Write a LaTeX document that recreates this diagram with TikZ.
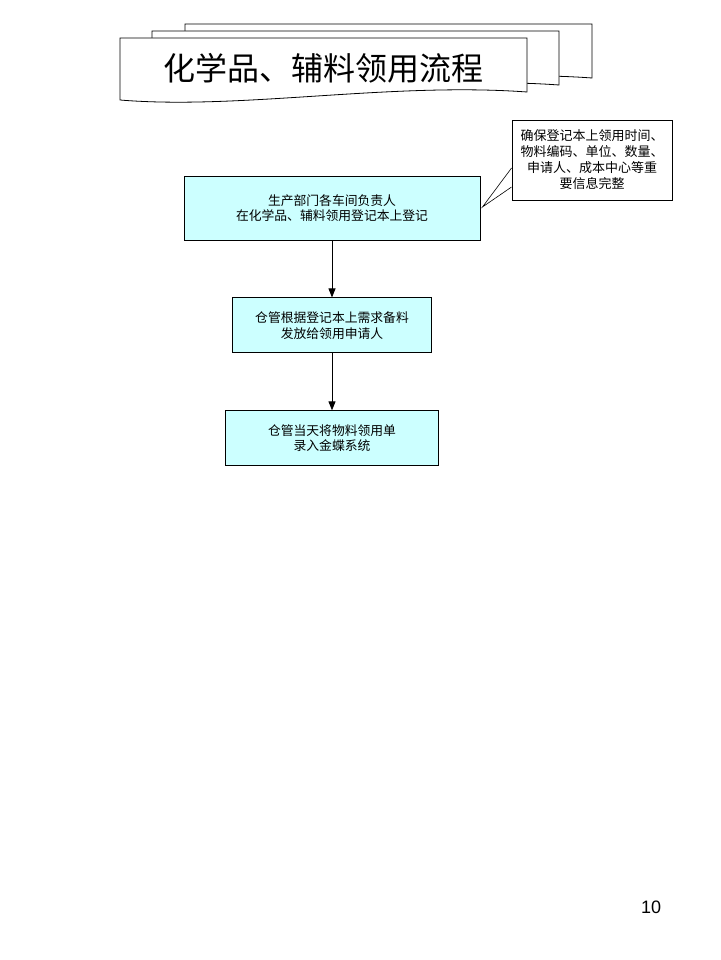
\documentclass[tikz,border=0pt]{standalone}
\usepackage{fontspec}
\setmainfont{Noto Sans CJK SC}
\newfontfamily\numfont{Liberation Sans}
\usepackage{tikz}
\usetikzlibrary{positioning,arrows.meta}
\definecolor{procfill}{HTML}{CCFFFF}

\begin{document}
\begin{tikzpicture}[
    x = 1pt, y = -1pt,
    > = {Triangle[width=7pt,length=9pt]},
    node distance = 57pt,
    line width = 0.9pt,
    procbox/.style={rectangle, draw, fill=procfill, align=center,
        font=\fontsize{12.8}{15.5}\selectfont, inner sep=2pt},
    notebox/.style={rectangle, draw, fill=white, align=center,
        minimum width=160pt, minimum height=80pt,
        font=\fontsize{13}{16}\selectfont, inner sep=2pt},
    titledoc/.style={draw, fill=white, line width=0.8pt}
]
    \useasboundingbox (0,0) rectangle (720,960);

    % title: stacked documents
    \foreach \dx/\dy in {65/-14, 32/-7, 0/0} {
        \draw[titledoc, shift={(\dx,\dy)}] (120,38) -- (527,38) -- (527,92)
            .. controls (390,82) and (240,110) .. (120,100) -- cycle;
    }
    \node[font=\fontsize{32}{36}\selectfont] (title) at (323,68) {化学品、辅料领用流程};

    % flow
    \node[procbox, minimum width=296pt, minimum height=64pt] (reg) at (332,208)
        {生产部门各车间负责人\\在化学品、辅料领用登记本上登记};
    \node[procbox, minimum width=199pt, minimum height=55pt, below=of reg] (issue)
        {仓管根据登记本上需求备料\\发放给领用申请人};
    \node[procbox, minimum width=213pt, minimum height=55pt, below=of issue] (entry)
        {仓管当天将物料领用单\\录入金蝶系统};

    \draw[->] (reg) -- (issue);
    \draw[->] (issue) -- (entry);

    % note
    \node[notebox] (note) at (592,160)
        {确保登记本上领用时间、\\物料编码、单位、数量、\\申请人、成本中心等重\\要信息完整};
    \coordinate (notetip) at ([xshift=2pt,yshift=1pt]reg.east);
    \fill[white] ([yshift=-8pt]note.west) -- (notetip) -- ([yshift=-27pt]note.west) -- cycle;
    \draw[line width=0.6pt] ([yshift=-8pt]note.west) -- (notetip) -- ([yshift=-27pt]note.west);

    % page number
    \node[font=\numfont\fontsize{18}{20}\selectfont] (pagenum) at (651,907) {10};
\end{tikzpicture}
\end{document}
